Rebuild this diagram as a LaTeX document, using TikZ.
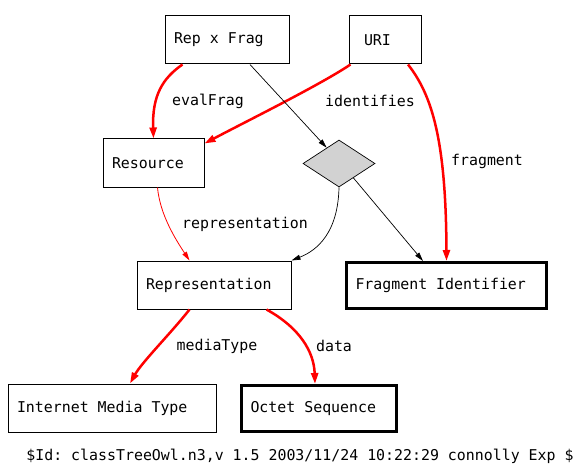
\documentclass[tikz,border=0pt]{standalone}
\usepackage{fontspec}
\setmonofont{DejaVu Sans Mono}
\usetikzlibrary{arrows.meta,shapes.geometric,calc}
\begin{document}
\begin{tikzpicture}[x=1pt,y=-1pt,
 every node/.style={font=\ttfamily\fontsize{14.9}{17}\selectfont},
 box/.style={draw,line width=1pt,minimum height=48pt,inner xsep=9pt,inner ysep=0pt,
  execute at begin node={\hbox to #1\bgroup},execute at end node={\hfil\egroup}},
 thickbox/.style={box=#1,line width=3pt,minimum height=46pt},
 rel/.style={red,line width=2.5pt,-{Triangle[length=11pt,width=7pt]}},
 thinrel/.style={red,line width=0.8pt,-{Triangle[length=9pt,width=5pt]}},
 link/.style={black,line width=0.7pt,-{Triangle[length=9pt,width=5pt]}}]
\useasboundingbox(0,0)rectangle(586,476);
\node[box=106pt](repfrag)at(227,40){Rep x Frag};
\node[box=42pt,inner xsep=15pt](uri)at(385,40){URI};
\node[box=83pt](resource)at(153.5,163){Resource};
\node[diamond,draw,fill=gray!35,line width=0.7pt,minimum width=72pt,minimum height=47pt,inner sep=0pt,aspect=1.5](dia)at(339,163.5){};
\node[box=136pt](representation)at(214,285){Representation};
\node[thickbox=182pt](fragid)at(446.5,285.5){Fragment Identifier};
\node[box=190pt](imt)at(112,408){Internet Media Type};
\node[thickbox=137pt](octet)at(319,408.5){Octet Sequence};
\draw[rel]($(repfrag.south west)+(18,0)$)..controls(163,78)and(152,95)..(resource.north);
\draw[rel]($(uri.south west)+(2,0)$)..controls(320,85)and(245,122)..($(resource.north east)+(0,5)$);
\draw[rel]($(uri.south)+(23,0)$)..controls(432,95)and(446,140)..(fragid.north);
\draw[link]($(repfrag.south)+(23,0)$)--(dia.128);
\draw[link](dia.south)..controls(338,232)and(318,250)..(representation.north east);
\draw[link](dia.-45)--($(fragid.north west)+(78,0)$);
\draw[thinrel]($(resource.south)+(4,0)$)..controls(160,215)and(176,240)..($(representation.north west)+(53,0)$);
\draw[rel]($(representation.south west)+(53,0)$)..controls(172,332)and(142,362)..($(imt.north)+(18,0)$);
\draw[rel]($(representation.south west)+(130,0)$)..controls(300,328)and(314,352)..($(octet.north)+(-4,0)$);
\node(lblEval)at(208,101){evalFrag};
\node(lblIdent)at(370,101){identifies};
\node(lblFrag)at(487,161){fragment};
\node(lblRepr)at(245,224){representation};
\node(lblMedia)at(217,346){mediaType};
\node(lblData)at(334,346){data};
\node(footer)at(300,456){\$Id: classTreeOwl.n3,v 1.5 2003/11/24 10:22:29 connolly Exp \$};
\end{tikzpicture}
\end{document}
